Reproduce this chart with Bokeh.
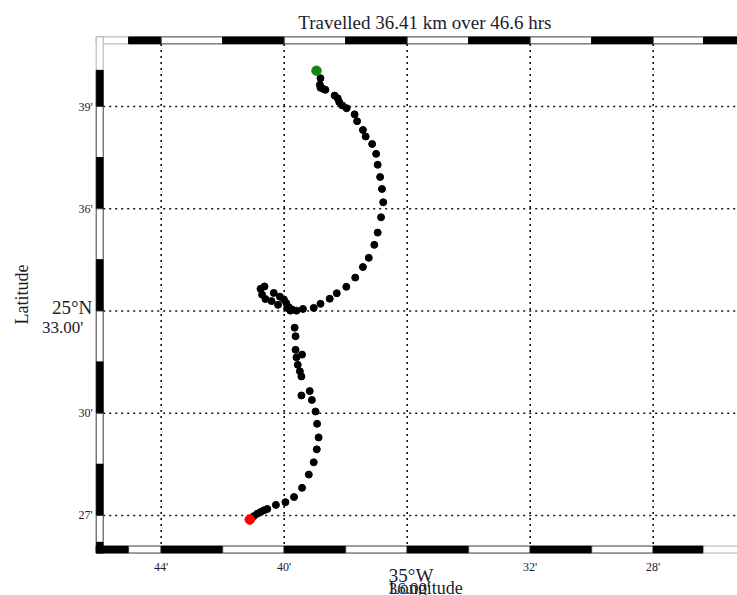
import math
from bokeh.plotting import figure
from bokeh.models import Range1d
from bokeh.core.properties import value
from bokeh.embed import file_html
from bokeh.resources import INLINE

TITLE = "Travelled 36.41 km over 46.6 hrs"
LON_DEG = 35   # degrees West
LAT_DEG = 25   # degrees North

# Drifter track: minutes West of 35°W and minutes North of 25°N (start -> end)
track_lon_min = [38.95, 38.82, 38.84, 38.82, 38.74, 38.66, 38.36, 38.26, 38.21, 38.11,
                 37.97, 37.71, 37.63, 37.44, 37.35, 37.14, 37.01, 36.96, 36.88, 36.82,
                 36.78, 36.85, 36.96, 37.07, 37.25, 37.44, 37.69, 37.98, 38.29, 38.52,
                 38.82, 39.04, 39.39, 39.60, 39.74, 39.85, 39.93, 40.01, 40.14, 40.34,
                 40.64, 40.77, 40.72, 40.61, 40.41, 40.20, 39.90, 39.80, 39.66, 39.63,
                 39.63, 39.42, 39.60, 39.56, 39.49, 39.44, 39.17, 39.44, 39.10, 38.98,
                 38.93, 38.88, 38.94, 39.04, 39.20, 39.42, 39.68, 39.96, 40.27, 40.55,
                 40.66, 40.77, 40.88, 40.99, 41.12]
track_lat_min = [40.05, 39.83, 39.64, 39.55, 39.52, 39.49, 39.32, 39.24, 39.13, 39.03,
                 38.95, 38.77, 38.57, 38.31, 38.12, 37.90, 37.61, 37.29, 36.93, 36.58,
                 36.19, 35.75, 35.30, 34.94, 34.56, 34.29, 33.98, 33.71, 33.52, 33.36,
                 33.21, 33.09, 33.06, 33.01, 33.04, 33.11, 33.23, 33.34, 33.42, 33.53,
                 33.72, 33.65, 33.48, 33.35, 33.29, 33.18, 33.09, 33.01, 32.51, 32.26,
                 31.86, 31.72, 31.64, 31.42, 31.23, 31.08, 30.65, 30.52, 30.39, 30.05,
                 29.69, 29.29, 28.94, 28.56, 28.20, 27.81, 27.54, 27.39, 27.31, 27.19,
                 27.15, 27.10, 27.05, 26.98, 26.88]

lon_grid_min = [44, 40, 36, 32, 28]
lat_grid_min = [39, 36, 33, 30, 27]
lon_tick_min = [44, 40, 32, 28]
lon_tick_labels = ["44'", "40'", "32'", "28'"]
lat_tick_min = [39, 36, 30, 27]
lat_tick_labels = ["39'", "36'", "30'", "27'"]
lon_center_min = 36
lon_center_labels = ["35°W", "36.00'"]
lat_center_min = 33
lat_center_labels = ["25°N", "33.00'"]
x_label = "Longitude"
y_label = "Latitude"

# map region (minutes)
LON_W, LON_E = 46.0, 24.85
LAT_S, LAT_N = 26.0, 40.94

# fancy frame segment boundaries (minutes)
lon_frame_bounds = [45.06, 44, 42, 40, 38, 36, 34, 32, 30, 28, 26.36]
lat_frame_bounds = [40.06, 39, 37.5, 36, 34.5, 33, 31.5, 30, 28.5, 27, 26.21]
top_kinds = ["light"] + ["black", "white"] * 5 + ["black"]
bottom_kinds = ["black", "white"] * 5 + ["black", "light"]
left_kinds = ["light"] + ["black", "white"] * 5 + ["black"]

# ---- layout (pixels) ----
W, H = 737, 595
PX_X = 30.75      # px per minute of longitude
PX_Y = 34.08      # px per minute of latitude
ANCHOR_X = 160.7  # px position of 44'
ANCHOR_Y = 106.0  # px position of 39'
FRAME_PX = 7.0

def lon(m):
    return -(LON_DEG + m / 60.0)

def lat(m):
    return LAT_DEG + m / 60.0

x_left = lon(44 + ANCHOR_X / PX_X)
x_right = lon(44 - (W - ANCHOR_X) / PX_X)
y_top = lat(39 + ANCHOR_Y / PX_Y)
y_bot = lat(39 - (H - ANCHOR_Y) / PX_Y)

hx = FRAME_PX / 2 / PX_X
hy = FRAME_PX / 2 / PX_Y

p = figure(width=W, height=H, x_range=Range1d(x_left, x_right),
           y_range=Range1d(y_bot, y_top), x_axis_type=None, y_axis_type=None,
           output_backend="svg", toolbar_location=None, min_border=0,
           title=None)
p.outline_line_color = None
p.background_fill_color = "white"
p.border_fill_color = "white"

FONT = value("Liberation Serif")
TXT = "#1c1c2a"

# grid
p.segment(x0=[lon(m) for m in lon_grid_min], x1=[lon(m) for m in lon_grid_min],
          y0=[lat(LAT_N - hy)] * len(lon_grid_min), y1=[lat(LAT_S + hy)] * len(lon_grid_min),
          line_color="#111111", line_width=1.6, line_dash="2 4")
p.segment(x0=[lon(LON_W - hx)] * len(lat_grid_min), x1=[lon(LON_E + hx)] * len(lat_grid_min),
          y0=[lat(m) for m in lat_grid_min], y1=[lat(m) for m in lat_grid_min],
          line_color="#111111", line_width=1.6, line_dash="2 4")

STYLE = {"black": ("black", "black"), "white": ("white", "#3a3a3a"), "light": ("white", "#b0b0b0")}

def leg_h(bounds, kinds, yc):
    b = [LON_W + hx] + bounds + [LON_E - hx]
    L, R, fc, lc = [], [], [], []
    for i, k in enumerate(kinds):
        L.append(lon(b[i])); R.append(lon(b[i + 1]))
        fc.append(STYLE[k][0]); lc.append(STYLE[k][1])
    p.quad(left=L, right=R, top=[lat(yc + hy)] * len(L), bottom=[lat(yc - hy)] * len(L),
           fill_color=fc, line_color=lc, line_width=1)

def leg_v(bounds, kinds, xc):
    b = [LAT_N + hy] + bounds + [LAT_S - hy]
    T, B, fc, lc = [], [], [], []
    for i, k in enumerate(kinds):
        T.append(lat(b[i])); B.append(lat(b[i + 1]))
        fc.append(STYLE[k][0]); lc.append(STYLE[k][1])
    p.quad(left=[lon(xc + hx)] * len(T), right=[lon(xc - hx)] * len(T), top=T, bottom=B,
           fill_color=fc, line_color=lc, line_width=1)

leg_h(lon_frame_bounds, top_kinds, LAT_N)
leg_h(lon_frame_bounds, bottom_kinds, LAT_S)
leg_v(lat_frame_bounds, left_kinds, LON_W)

# track
xs = [lon(m) for m in track_lon_min]
ys = [lat(m) for m in track_lat_min]
p.scatter(xs, ys, size=7, color="black")
p.scatter([xs[-1]], [ys[-1]], size=9.5, color="#ff0000")
p.scatter([xs[0]], [ys[0]], size=9.5, color="#118811")

# labels
x_out = lon(LON_W + hx)
y_out = lat(LAT_S - hy)
p.text(x=[x_out] * len(lat_tick_min), y=[lat(m) for m in lat_tick_min], text=lat_tick_labels,
       text_font=FONT, text_font_size="12px", text_color=TXT,
       text_align="right", text_baseline="middle", x_offset=-3.5)
p.text(x=[x_out], y=[lat(lat_center_min)], text=[lat_center_labels[0]],
       text_font=FONT, text_font_size="19px", text_color=TXT,
       text_align="right", text_baseline="alphabetic", x_offset=-4, y_offset=-3.8)
p.text(x=[x_out], y=[lat(lat_center_min)], text=[lat_center_labels[1]],
       text_font=FONT, text_font_size="17px", text_color=TXT,
       text_align="right", text_baseline="alphabetic", x_offset=-13, y_offset=16.5)
p.text(x=[x_out], y=[lat(lat_center_min)], text=[y_label], angle=math.pi / 2,
       text_font=FONT, text_font_size="18px", text_color=TXT,
       text_align="center", text_baseline="middle", x_offset=-74, y_offset=-16.5)

p.text(x=[lon(m) for m in lon_tick_min], y=[y_out] * len(lon_tick_min), text=lon_tick_labels,
       text_font=FONT, text_font_size="12px", text_color=TXT,
       text_align="center", text_baseline="alphabetic", y_offset=14)
p.text(x=[lon(lon_center_min)], y=[y_out], text=[lon_center_labels[0]],
       text_font=FONT, text_font_size="19px", text_color=TXT,
       text_align="left", text_baseline="alphabetic", x_offset=-18.4, y_offset=22)
p.text(x=[lon(lon_center_min)], y=[y_out], text=[lon_center_labels[1]],
       text_font=FONT, text_font_size="17px", text_color=TXT,
       text_align="left", text_baseline="alphabetic", x_offset=-18.4, y_offset=35)
p.text(x=[lon(lon_center_min)], y=[y_out], text=[x_label],
       text_font=FONT, text_font_size="18px", text_color=TXT,
       text_align="left", text_baseline="alphabetic", x_offset=-18.4, y_offset=35)

p.text(x=[lon((LON_W + LON_E) / 2)], y=[lat(LAT_N + hy)], text=[TITLE],
       text_font=FONT, text_font_size="19px", text_color=TXT,
       text_align="center", text_baseline="alphabetic", y_offset=-14.7)

open("out.html", "w").write(file_html(p, INLINE))
